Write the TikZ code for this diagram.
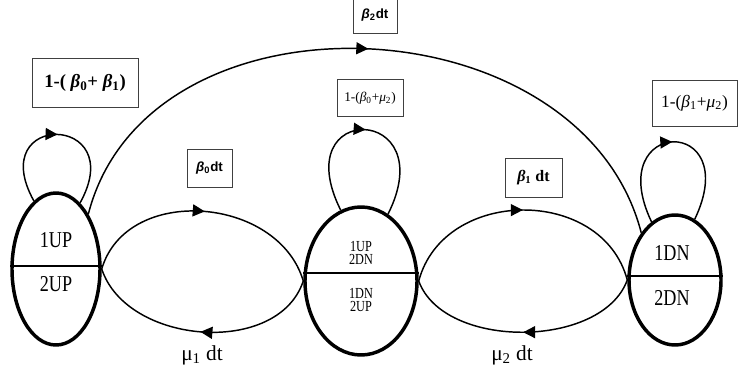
\documentclass[tikz,border=0pt]{standalone}
\usepackage{fontspec}
\setmainfont{Liberation Serif}
\newfontfamily\cond[FakeStretch=0.8]{Liberation Serif}
\newfontfamily\lsans{Liberation Sans}
\usetikzlibrary{shapes.geometric,arrows.meta,decorations.markings,calc}
\tikzset{
  state/.style={ellipse, draw, line width=2.6pt, inner sep=0pt},
  divider/.style={line width=1.1pt},
  bigtxt/.style={font=\cond\fontsize{17}{17}\selectfont, inner sep=0pt},
  smalltxt/.style={font=\cond\fontsize{11.5}{10}\selectfont, align=center, inner sep=0pt},
  lbl/.style={draw=black!75, line width=0.6pt, fill=white, inner sep=0pt, align=center},
  ratetxt/.style={font=\fontsize{16}{16}\selectfont, inner sep=0pt},
  arr/.style={line width=1.1pt, postaction={decorate},
    decoration={markings, mark=at position #1 with {\arrow{Triangle[length=9pt,width=9pt]}}}},
  arr/.default=0.5
}
\begin{document}
\begin{tikzpicture}[x=0.75pt, y=-0.75pt]
\useasboundingbox (0,0) rectangle (738,370);

% states
\node[state, minimum width=66pt, minimum height=114pt] (L) at (56,269) {};
\node[state, minimum width=84pt, minimum height=111pt] (M) at (361,281) {};
\node[state, minimum width=69pt, minimum height=97.5pt] (R) at (675,280) {};

\draw[divider] ($(L.west)+(0,-3)$) -- ($(L.east)+(0,-3)$);
\draw[divider] ($(M.west)+(0,-8)$) -- ($(M.east)+(0,-8)$);
\draw[divider] ($(R.west)+(0,-4)$) -- ($(R.east)+(0,-4)$);

\node[bigtxt] (l1) at (56,240) {1UP};
\node[bigtxt] (l2) at (56,284) {2UP};
\node[smalltxt] (m1) at (361,253) {1UP\\2DN};
\node[smalltxt] (m2) at (361,300) {1DN\\2UP};
\node[bigtxt] (r1) at (672,253) {1DN};
\node[bigtxt] (r2) at (672,298) {2DN};

% connectors
\draw[arr] (L.north east) .. controls +(60,-233) and +(-60,-233) .. (R.north west);
\draw[arr] (L.east) .. controls +(25,-85) and +(-25,-85) .. (M.west);
\draw[arr] (M.west) .. controls +(-25,76) and +(25,76) .. (L.east);
\draw[arr] (M.east) .. controls +(25,-94) and +(-25,-94) .. (R.west);
\draw[arr] (R.west) .. controls +(-25,69) and +(25,69) .. (M.east);

% self loops
\draw[arr] (L.108) .. controls +(-50,-90) and +(50,-90) .. (L.70);
\draw[arr] (M.106) .. controls +(-55,-110) and +(55,-110) .. (M.68);
\draw[arr] (R.112) .. controls +(-50,-105) and +(50,-105) .. (R.72);

% labels
\node[lbl, minimum width=79.5pt, minimum height=37pt, font=\bfseries\fontsize{14}{14}\selectfont] (b1) at (85,83)
  {1-( {\itshape β}\textsubscript{0}+ {\itshape β}\textsubscript{1})};
\node[lbl, minimum width=49.5pt, minimum height=27.75pt, font=\fontsize{10}{10}\selectfont] (b2) at (370,98)
  {1-({\itshape β}\textsubscript{0}+{\itshape μ}\textsubscript{2})};
\node[lbl, minimum width=63.75pt, minimum height=34.5pt, font=\fontsize{13}{13}\selectfont] (b3) at (694.5,103)
  {1-({\itshape β}\textsubscript{1}+{\itshape μ}\textsubscript{2})};
\node[lbl, minimum width=42.75pt, minimum height=29.25pt, font=\bfseries\fontsize{12}{12}\selectfont] (b4) at (533.5,177.5)
  {{\itshape β}\textsubscript{1} dt};
\node[lbl, minimum width=33.75pt, minimum height=28.5pt, font=\lsans\bfseries\fontsize{10}{10}\selectfont] (b5) at (209.5,168)
  {{\itshape β}\textsubscript{0}dt};
\node[lbl, minimum width=33pt, minimum height=26.25pt, font=\lsans\bfseries\fontsize{10}{10}\selectfont] (b6) at (375,15.5)
  {{\itshape β}\textsubscript{2}dt};

\node[ratetxt] (mu1) at (202,355) {μ\textsubscript{1} dt};
\node[ratetxt] (mu2) at (512,355) {μ\textsubscript{2} dt};
\end{tikzpicture}
\end{document}
